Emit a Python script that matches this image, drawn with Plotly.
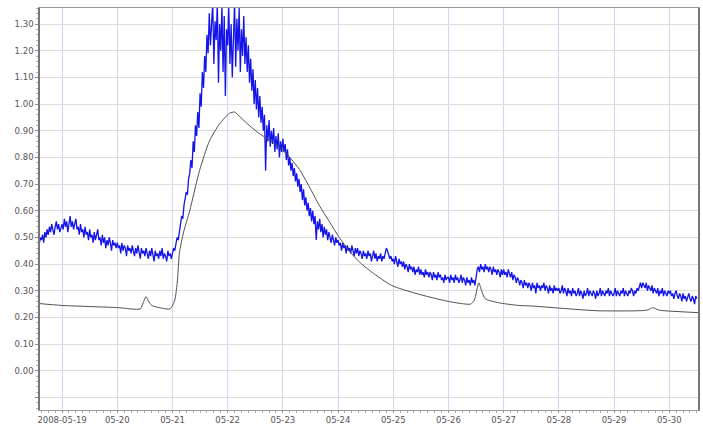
import plotly.graph_objects as go
import pandas as pd

# Blue series: half-hourly readings starting 2008-05-18 14:00
blue_start = "2008-05-18 14:00"
blue_d18 = [0.47, 0.50, 0.49, 0.51, 0.48, 0.52, 0.50, 0.53, 0.51, 0.54,
            0.52, 0.55, 0.53, 0.51, 0.54, 0.56, 0.53, 0.55, 0.52, 0.54]
blue_d19 = [0.55, 0.53, 0.57, 0.54, 0.56, 0.52, 0.55, 0.58, 0.54, 0.56, 0.53, 0.55,
            0.57, 0.53, 0.54, 0.51, 0.55, 0.52, 0.53, 0.50, 0.54, 0.51, 0.52, 0.49,
            0.53, 0.50, 0.51, 0.48, 0.52, 0.49, 0.51, 0.53, 0.49, 0.50, 0.47, 0.51,
            0.48, 0.50, 0.46, 0.49, 0.47, 0.50, 0.48, 0.45, 0.49, 0.47, 0.48, 0.46]
blue_d20 = [0.48, 0.46, 0.47, 0.44, 0.48, 0.45, 0.47, 0.46, 0.43, 0.47, 0.45, 0.46,
            0.44, 0.47, 0.45, 0.43, 0.46, 0.44, 0.47, 0.45, 0.42, 0.46, 0.44, 0.45,
            0.43, 0.46, 0.44, 0.42, 0.45, 0.43, 0.46, 0.44, 0.41, 0.45, 0.43, 0.44,
            0.42, 0.45, 0.43, 0.46, 0.42, 0.44, 0.43, 0.41, 0.45, 0.43, 0.44, 0.42]
blue_d21 = [0.44, 0.46, 0.45, 0.48, 0.50, 0.49, 0.53, 0.55, 0.58, 0.57, 0.62, 0.64,
            0.67, 0.66, 0.72, 0.74, 0.79, 0.76, 0.86, 0.82, 0.92, 0.88, 0.97, 0.91,
            1.04, 0.99, 1.12, 1.06, 1.18, 1.12, 1.26, 1.19, 1.34, 1.22, 1.29, 1.38,
            1.15, 1.31, 1.24, 1.38, 1.08, 1.30, 1.20, 1.37, 1.12, 1.33, 1.03, 1.28]
blue_d22 = [1.22, 1.36, 1.15, 1.30, 1.10, 1.27, 1.38, 1.14, 1.32, 1.20, 1.36, 1.12,
            1.28, 1.18, 1.33, 1.15, 1.25, 1.12, 1.22, 1.08, 1.17, 1.05, 1.13, 1.00,
            1.09, 0.98, 1.06, 0.95, 1.03, 0.93, 0.99, 0.90, 0.96, 0.75, 0.92, 0.86,
            0.94, 0.84, 0.90, 0.85, 0.91, 0.82, 0.88, 0.83, 0.89, 0.80, 0.86, 0.82]
blue_d23 = [0.87, 0.82, 0.85, 0.79, 0.83, 0.77, 0.80, 0.75, 0.78, 0.73, 0.76, 0.71,
            0.74, 0.69, 0.72, 0.67, 0.70, 0.64, 0.68, 0.62, 0.65, 0.60, 0.63, 0.58,
            0.61, 0.56, 0.60, 0.55, 0.58, 0.49, 0.56, 0.53, 0.57, 0.52, 0.55, 0.50,
            0.54, 0.51, 0.53, 0.49, 0.52, 0.50, 0.48, 0.51, 0.49, 0.47, 0.50, 0.48]
blue_d24 = [0.49, 0.47, 0.48, 0.45, 0.48, 0.46, 0.47, 0.44, 0.47, 0.45, 0.46, 0.44,
            0.47, 0.45, 0.43, 0.46, 0.44, 0.46, 0.43, 0.45, 0.44, 0.42, 0.45, 0.43,
            0.44, 0.42, 0.45, 0.43, 0.44, 0.41, 0.43, 0.45, 0.42, 0.44, 0.41, 0.43,
            0.42, 0.44, 0.41, 0.43, 0.42, 0.44, 0.46, 0.45, 0.43, 0.42, 0.43, 0.41]
blue_d25 = [0.42, 0.40, 0.43, 0.41, 0.39, 0.42, 0.40, 0.41, 0.39, 0.41, 0.38, 0.40,
            0.39, 0.37, 0.40, 0.38, 0.39, 0.37, 0.39, 0.36, 0.38, 0.37, 0.39, 0.36,
            0.38, 0.36, 0.37, 0.35, 0.38, 0.36, 0.37, 0.35, 0.37, 0.36, 0.34, 0.37,
            0.35, 0.36, 0.34, 0.37, 0.35, 0.36, 0.34, 0.35, 0.33, 0.36, 0.34, 0.35]
blue_d26 = [0.35, 0.33, 0.36, 0.34, 0.35, 0.33, 0.36, 0.34, 0.35, 0.33, 0.34, 0.36,
            0.33, 0.35, 0.34, 0.32, 0.35, 0.33, 0.34, 0.32, 0.35, 0.33, 0.34, 0.32,
            0.36, 0.38, 0.39, 0.37, 0.40, 0.38, 0.39, 0.37, 0.40, 0.38, 0.39, 0.37,
            0.39, 0.38, 0.36, 0.39, 0.37, 0.38, 0.36, 0.38, 0.37, 0.35, 0.38, 0.36]
blue_d27 = [0.38, 0.36, 0.37, 0.35, 0.38, 0.36, 0.35, 0.37, 0.34, 0.36, 0.35, 0.33,
            0.35, 0.34, 0.32, 0.34, 0.33, 0.31, 0.34, 0.32, 0.33, 0.31, 0.33, 0.32,
            0.30, 0.33, 0.31, 0.32, 0.29, 0.33, 0.31, 0.32, 0.30, 0.32, 0.31, 0.33,
            0.30, 0.32, 0.31, 0.29, 0.32, 0.30, 0.31, 0.29, 0.32, 0.30, 0.31, 0.30]
blue_d28 = [0.31, 0.29, 0.30, 0.32, 0.29, 0.31, 0.30, 0.28, 0.31, 0.29, 0.30, 0.28,
            0.31, 0.29, 0.30, 0.28, 0.29, 0.31, 0.28, 0.30, 0.29, 0.27, 0.30, 0.28,
            0.29, 0.31, 0.28, 0.30, 0.29, 0.28, 0.30, 0.29, 0.27, 0.30, 0.28, 0.29,
            0.31, 0.28, 0.30, 0.29, 0.28, 0.30, 0.29, 0.31, 0.28, 0.30, 0.29, 0.28]
blue_d29 = [0.29, 0.31, 0.28, 0.30, 0.29, 0.28, 0.30, 0.29, 0.31, 0.28, 0.30, 0.29,
            0.28, 0.30, 0.29, 0.31, 0.30, 0.28, 0.30, 0.29, 0.31, 0.30, 0.32, 0.33,
            0.31, 0.33, 0.32, 0.31, 0.33, 0.30, 0.32, 0.31, 0.30, 0.32, 0.29, 0.31,
            0.30, 0.29, 0.31, 0.28, 0.30, 0.29, 0.31, 0.28, 0.30, 0.29, 0.28, 0.30]
blue_d30 = [0.29, 0.30, 0.28, 0.29, 0.27, 0.29, 0.30, 0.28, 0.27, 0.29, 0.28, 0.26,
            0.29, 0.27, 0.28, 0.26, 0.28, 0.29, 0.27, 0.26, 0.28, 0.27, 0.25, 0.28, 0.27]

# Black series: smooth curve, irregular timestamps
black_times = [
    "2008-05-18 14:00", "2008-05-19 00:00", "2008-05-20 00:00", "2008-05-20 10:00",
    "2008-05-20 11:15", "2008-05-20 12:30", "2008-05-20 13:30", "2008-05-20 15:00",
    "2008-05-20 19:12", "2008-05-20 23:00", "2008-05-21 01:00", "2008-05-21 02:10",
    "2008-05-21 03:00", "2008-05-21 04:50", "2008-05-21 07:30", "2008-05-21 11:45",
    "2008-05-21 16:00", "2008-05-21 20:24", "2008-05-22 00:45", "2008-05-22 03:00",
    "2008-05-22 05:00", "2008-05-22 09:20", "2008-05-22 13:40", "2008-05-22 22:20",
    "2008-05-23 03:00", "2008-05-23 07:12", "2008-05-23 11:30", "2008-05-23 15:50",
    "2008-05-23 20:10", "2008-05-24 00:30", "2008-05-24 04:48", "2008-05-24 09:00",
    "2008-05-24 14:40", "2008-05-24 23:15", "2008-05-25 09:50", "2008-05-26 00:00",
    "2008-05-26 09:36", "2008-05-26 11:15", "2008-05-26 13:12", "2008-05-26 14:24",
    "2008-05-26 16:00", "2008-05-26 21:50", "2008-05-27 06:30", "2008-05-27 12:00",
    "2008-05-28 03:00", "2008-05-28 17:00", "2008-05-29 10:20", "2008-05-29 14:40",
    "2008-05-29 16:48", "2008-05-29 19:12", "2008-05-29 22:00", "2008-05-30 12:30",
]
black_vals = [
    0.252, 0.245, 0.237, 0.232,
    0.255, 0.278, 0.262, 0.245,
    0.235, 0.232, 0.265, 0.34,
    0.44, 0.52, 0.60, 0.75,
    0.86, 0.925, 0.965, 0.97,
    0.955, 0.92, 0.89, 0.84,
    0.80, 0.755, 0.69, 0.62,
    0.56, 0.50, 0.45, 0.41,
    0.37, 0.32, 0.29, 0.26,
    0.25, 0.265, 0.33, 0.30,
    0.27, 0.255, 0.245, 0.243,
    0.233, 0.225, 0.225, 0.228,
    0.237, 0.228, 0.225, 0.218,
]

x_tick_days = ["2008-05-19", "2008-05-20", "2008-05-21", "2008-05-22", "2008-05-23",
               "2008-05-24", "2008-05-25", "2008-05-26", "2008-05-27", "2008-05-28",
               "2008-05-29", "2008-05-30"]
x_tick_labels = ["2008-05-19", "05-20", "05-21", "05-22", "05-23", "05-24", "05-25",
                 "05-26", "05-27", "05-28", "05-29", "05-30"]
y_tick_vals = [-0.1, 0.0, 0.1, 0.2, 0.3, 0.4, 0.5, 0.6, 0.7, 0.8, 0.9, 1.0, 1.1, 1.2, 1.3]
y_tick_labels = ["", "0.00", "0.10", "0.20", "0.30", "0.40", "0.50", "0.60", "0.70",
                 "0.80", "0.90", "1.00", "1.10", "1.20", "1.30"]

blue_vals = (blue_d18 + blue_d19 + blue_d20 + blue_d21 + blue_d22 + blue_d23 + blue_d24
             + blue_d25 + blue_d26 + blue_d27 + blue_d28 + blue_d29 + blue_d30)
blue_times = pd.date_range(blue_start, periods=len(blue_vals), freq="30min")

fig = go.Figure()
fig.add_trace(go.Scatter(x=blue_times, y=blue_vals, mode="lines",
                         line=dict(color="#1414ea", width=1.3), showlegend=False))
fig.add_trace(go.Scatter(x=pd.to_datetime(black_times), y=black_vals, mode="lines",
                         line=dict(color="#505050", width=1, shape="spline", smoothing=0.6),
                         showlegend=False))

fig.update_layout(
    width=703, height=428,
    margin=dict(l=40, r=3, t=8, b=15),
    paper_bgcolor="white", plot_bgcolor="white",
    font=dict(family="DejaVu Sans", size=9, color="#555555"),
    xaxis=dict(
        range=["2008-05-18 14:24", "2008-05-30 12:30"],
        tickvals=pd.to_datetime(x_tick_days), ticktext=x_tick_labels,
        showgrid=True, gridcolor="#c9d9f2", gridwidth=1,
        showline=True, linecolor="#9a9a9a", linewidth=1, mirror=True,
        ticks="outside", ticklen=2, tickcolor="#9a9a9a",
        minor=dict(dtick=3 * 3600 * 1000, ticks="outside", ticklen=2, tickcolor="#b0b0b0", showgrid=False),
        zeroline=False, tickfont=dict(size=8.5, color="#555555"),
    ),
    yaxis=dict(
        range=[-0.147, 1.36],
        tickvals=y_tick_vals, ticktext=y_tick_labels,
        showgrid=True, gridcolor="#dcdcdc", gridwidth=1,
        showline=True, linecolor="#777777", linewidth=1.5, mirror=True,
        ticks="outside", ticklen=3, tickcolor="#888888",
        minor=dict(dtick=0.02, ticks="outside", ticklen=2, tickcolor="#b0b0b0", showgrid=False),
        zeroline=False, tickfont=dict(size=8.5, color="#555555"),
    ),
)

fig.write_html("out.html", config={"displayModeBar": False},
               post_script="document.body.style.margin='0';document.body.style.overflow='hidden';")
